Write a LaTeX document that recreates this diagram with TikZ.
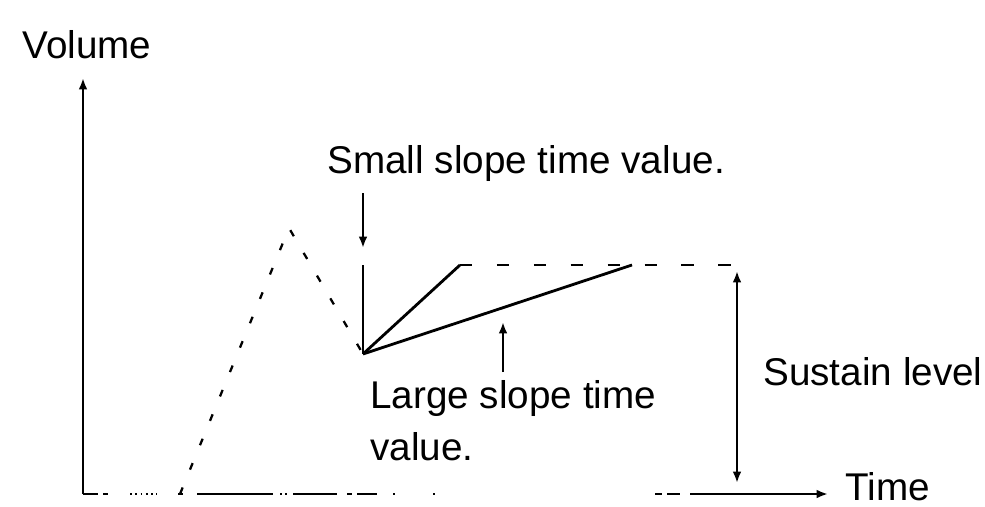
\documentclass[tikz,border=0pt]{standalone}
\usepackage{fontspec}
\setmainfont{Liberation Sans}
\usetikzlibrary{calc,arrows.meta}

\begin{document}
\begin{tikzpicture}[
  lbl/.style={inner sep=0pt, font=\fontsize{22}{29.5}\selectfont},
  axis/.style={line width=1.3pt},
  env/.style={line width=1.3pt, dash pattern=on 4pt off 11pt},
  arr/.style={line width=1.3pt, -{Latex[length=6.5pt,width=5pt]}}]
  \useasboundingbox (0,0) rectangle (19.7,10.12);

  % points of the envelope
  \coordinate (o) at (1.66,0.24);
  \coordinate (ytop) at (1.66,8.56);
  \coordinate (xstart) at (13.8,0.24);
  \coordinate (xend) at (16.56,0.24);
  \coordinate (foot) at (3.6,0.24);
  \coordinate (peak) at (5.78,5.56);
  \coordinate (valley) at (7.26,3.04);
  \coordinate (top) at (7.26,4.82);
  \coordinate (small) at (9.2,4.82);
  \coordinate (large) at (12.64,4.82);
  \coordinate (susend) at (14.74,4.82);

  % axes
  \draw[arr] (o) -- (ytop);
  \draw[axis] (o) -- (1.96,0.24) (2.06,0.24) -- (2.16,0.24)
    (3.56,0.24) -- (3.66,0.24) (3.94,0.24) -- (5.46,0.24)
    (5.86,0.24) -- (6.74,0.24) (6.94,0.24) -- (7.04,0.24)
    (7.14,0.24) -- (7.54,0.24) (7.86,0.24) -- (7.9,0.24)
    (8.66,0.24) -- (8.7,0.24) (13.1,0.24) -- (13.24,0.24)
    (13.34,0.24) -- (13.6,0.24);
  \draw[axis, dash pattern=on 1pt off 2pt] (2.6,0.24) -- (3.14,0.24) (5.6,0.24) -- (5.8,0.24);
  \draw[arr] (xstart) -- (xend);
  \node[lbl, anchor=base west] (ylbl) at (0.44,8.96) {Volume};
  \node[lbl, anchor=base west] (tlbl) at (16.9,0.12) {Time};

  % attack and decay
  \draw[env] (foot) -- (peak) -- (valley);

  % the two slopes
  \draw[line width=1.6pt] (valley) -- (top);
  \draw[line width=1.6pt] (valley) -- (small);
  \draw[line width=1.6pt] (valley) -- (large);
  \draw[line width=1.3pt, dash pattern=on 7pt off 14pt] (small) -- (susend);

  % labels
  \node[lbl, anchor=base west] (smalltxt) at (6.54,6.66) {Small slope time value.};
  \draw[arr] ($(smalltxt.base -| valley)+(0,-0.4)$) coordinate (smallfoot) -- ($(top)+(0,0.34)$);

  \node[lbl, anchor=north west, align=left] (largetxt) at (7.4,2.52) {Large slope time\\value.};
  \coordinate (largefoot) at (10.06,2.68);
  \coordinate (largetip) at (10.06,3.68);
  \draw[arr] (largefoot) -- (largetip);

  \coordinate (suslo) at (14.74,0.46);
  \coordinate (sushi) at (14.74,4.7);
  \draw[line width=1.3pt, {Latex[length=6.5pt,width=5pt]}-{Latex[length=6.5pt,width=5pt]}] (suslo) -- (sushi);
  \node[lbl, anchor=base west] (suslbl) at (15.26,2.42) {Sustain level};
\end{tikzpicture}
\end{document}
